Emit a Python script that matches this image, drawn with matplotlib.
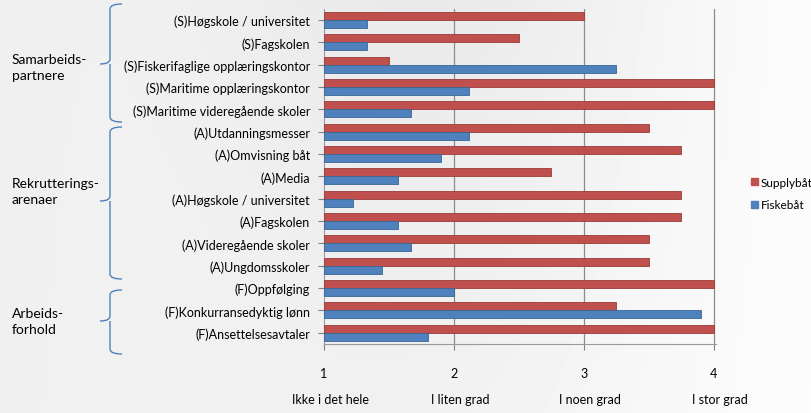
import numpy as np
import matplotlib.pyplot as plt
from matplotlib.path import Path
from matplotlib.patches import PathPatch, Patch

plt.rcParams['font.family'] = ['Lato', 'DejaVu Sans']

categories = [
    "(S)Høgskole / universitet",
    "(S)Fagskolen",
    "(S)Fiskerifaglige opplæringskontor",
    "(S)Maritime opplæringskontor",
    "(S)Maritime videregående skoler",
    "(A)Utdanningsmesser",
    "(A)Omvisning båt",
    "(A)Media",
    "(A)Høgskole / universitet",
    "(A)Fagskolen",
    "(A)Videregående skoler",
    "(A)Ungdomsskoler",
    "(F)Oppfølging",
    "(F)Konkurransedyktig lønn",
    "(F)Ansettelsesavtaler",
]
supply = [3.0, 2.5, 1.5, 4.0, 4.0, 3.5, 3.75, 2.75, 3.75, 3.75, 3.5, 3.5, 4.0, 3.25, 4.0]
fiske = [1.33, 1.33, 3.25, 2.12, 1.67, 2.12, 1.9, 1.57, 1.22, 1.57, 1.67, 1.45, 2.0, 3.9, 1.8]
tick_vals = [1, 2, 3, 4]
scale_labels = ["Ikke i det hele", "I liten grad", "I noen grad", "I stor grad"]
groups = ["Samarbeids-\npartnere", "Rekrutterings-\narenaer", "Arbeids-\nforhold"]

RED = "#c0504d"
BLUE = "#4f81bd"

fig = plt.figure(figsize=(8.12, 4.14), dpi=100)

# soft gray background
bg = fig.add_axes([0, 0, 1, 1], zorder=-10)
gx = np.linspace(0, 1, 200)
gy = np.linspace(0, 1, 100)
X, Y = np.meshgrid(gx, gy)
shade = 0.94 - 0.05 * np.exp(-((X - 0.55) ** 2) / 0.08) * (1 - 0.6 * Y) + 0.05 * X
bg.imshow(shade, cmap="gray", vmin=0, vmax=1, aspect="auto", extent=[0, 1, 0, 1])
bg.axis("off")

ax = fig.add_axes([0.399, 0.167, 0.483, 0.809])
ax.patch.set_alpha(0)

y = np.arange(len(categories))
h = 0.36
ax.barh(y - h / 2, np.array(supply) - 1, left=1, height=h, color=RED,
        edgecolor="#9b3b38", linewidth=0.6, label="Supplybåt", zorder=3)
ax.barh(y + h / 2, np.array(fiske) - 1, left=1, height=h, color=BLUE,
        edgecolor="#3a6596", linewidth=0.6, label="Fiskebåt", zorder=3)

ax.set_xlim(1, 4.02)
ax.set_ylim(len(categories) - 0.5, -0.5)
ax.set_yticks(y)
ax.set_yticklabels(categories, fontsize=9)
ax.set_xticks(tick_vals)
ax.set_xticklabels([str(v) for v in tick_vals], fontsize=9)
ax.tick_params(axis="x", length=4, pad=13, color="#808080")
ax.tick_params(axis="y", length=4, color="#808080", pad=6)
for v in tick_vals[1:]:
    ax.axvline(v, color="#8c8c8c", linewidth=0.9, zorder=1)
for s in ["top", "right"]:
    ax.spines[s].set_visible(False)
ax.spines["left"].set_color("#9a9a9a")
ax.spines["bottom"].set_color("#9a9a9a")

for v, lab in zip(tick_vals, scale_labels):
    ax.text(v + 0.05, -0.165, lab, transform=ax.get_xaxis_transform(),
            ha="center", va="center", fontsize=9)

handles = [Patch(color=RED, label="Supplybåt"), Patch(color=BLUE, label="Fiskebåt")]
fig.legend(handles=handles, loc="center left", bbox_to_anchor=(0.918, 0.53),
           frameon=False, fontsize=8.5, handlelength=0.6, handleheight=0.6,
           handletextpad=0.2, labelspacing=1.0, borderpad=0)


def brace(y0, y1, ym):
    # pixel coords (top-left origin) -> figure fraction
    W, H = 812, 414
    xs, xv, xt = 122, 110, 100
    r = 5
    pts = [(xs, y0), (xv, y0), (xv, y0 + r), (xv, ym - r), (xv, ym), (xt, ym),
           (xv, ym), (xv, ym + r), (xv, y1 - r), (xv, y1), (xs, y1)]
    codes = [Path.MOVETO, Path.CURVE3, Path.CURVE3, Path.LINETO, Path.CURVE3, Path.CURVE3,
             Path.MOVETO, Path.CURVE3, Path.LINETO, Path.CURVE3, Path.CURVE3]
    verts = [(px / W, 1 - py / H) for px, py in pts]
    fig.add_artist(PathPatch(Path(verts, codes), transform=fig.transFigure,
                             fill=False, edgecolor=BLUE, linewidth=1.0))


brace(5, 123, 65)
brace(128, 280, 202)
brace(291, 355, 322)

for lab, ym in zip(groups, [68, 192, 322]):
    fig.text(12 / 812, 1 - ym / 414, lab, ha="left", va="center", fontsize=10,
             linespacing=1.4)

fig.savefig("out.png", dpi=100)
